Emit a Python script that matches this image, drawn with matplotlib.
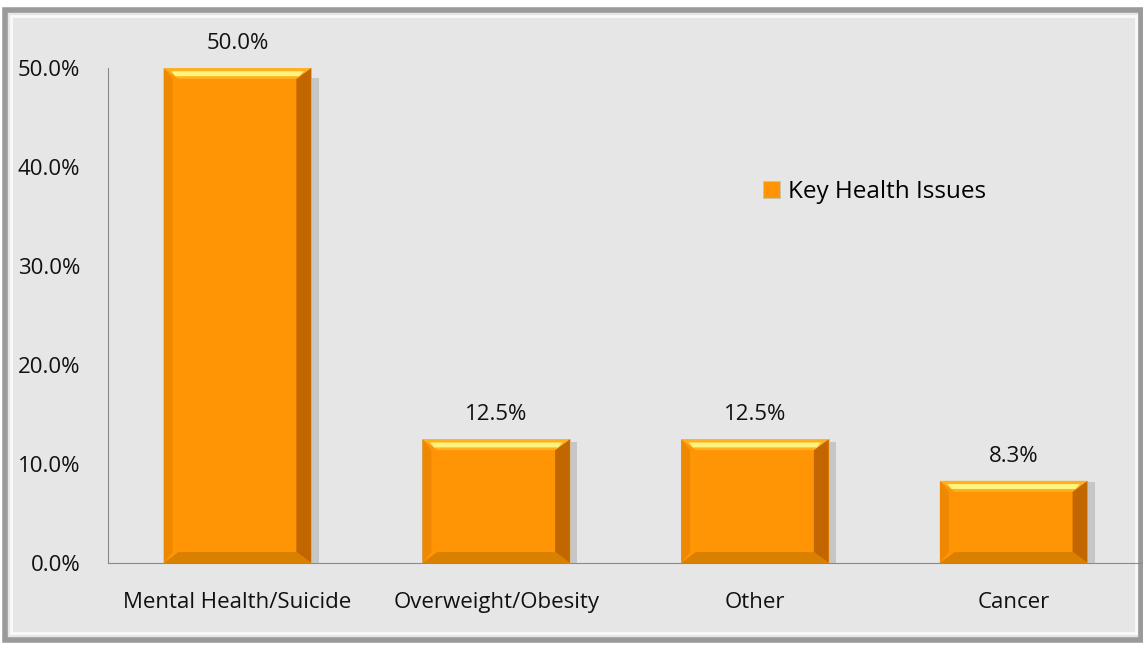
import numpy as np
import matplotlib.pyplot as plt
from matplotlib.patches import Rectangle, Polygon
from matplotlib.ticker import PercentFormatter

categories = ["Mental Health/Suicide", "Overweight/Obesity", "Other", "Cancer"]
values = [50.0, 12.5, 12.5, 8.3]
series_name = "Key Health Issues"

plt.rcParams['font.family'] = ['Open Sans', 'DejaVu Sans']

fig = plt.figure(figsize=(11.43, 6.46), dpi=100)
fig.patch.set_facecolor('white')

# outer frame of the chart area
fig.patches.append(Rectangle((0.004, 0.009), 0.994, 0.976, transform=fig.transFigure,
                             facecolor='#e6e6e6', edgecolor='#9a9a9a', lw=4, zorder=-2))
fig.patches.append(Rectangle((0.010, 0.020), 0.984, 0.955, transform=fig.transFigure,
                             facecolor='none', edgecolor='#fafafa', lw=2, zorder=-1))

ax = fig.add_axes([0.0945, 0.1285, 0.9055, 0.7662])
ax.set_facecolor('none')

x = np.arange(len(categories))
width = 0.57
bars = ax.bar(x, values, width=width, color='#ff9405', edgecolor='#c9c2b0', lw=0.6, zorder=3)

# bevel effect: shadow, dark right edge, bright top band
bx = width * 0.1
by = 50 * 0.022
for xi, v in zip(x, values):
    l, r = xi - width / 2, xi + width / 2
    ax.add_patch(Rectangle((r, 0), width * 0.05, v * 0.98, facecolor='#a8a8a8', alpha=0.5,
                           lw=0, zorder=2))
    ax.add_patch(Polygon([(r, 0), (r, v), (r - bx, v - by), (r - bx, by)],
                         facecolor='#c26600', lw=0, zorder=4))
    ax.add_patch(Polygon([(l, 0), (l, v), (l + bx * 0.6, v - by), (l + bx * 0.6, by)],
                         facecolor='#ee8800', lw=0, zorder=4))
    ax.add_patch(Polygon([(l, v), (r, v), (r - bx, v - by), (l + bx, v - by)],
                         facecolor='#ffb020', lw=0, zorder=4))
    ax.add_patch(Polygon([(l + bx * 0.5, v - by * 0.3), (r - bx * 0.5, v - by * 0.3),
                          (r - bx * 0.8, v - by * 0.75), (l + bx * 0.8, v - by * 0.75)],
                         facecolor='#fff480', lw=0, zorder=5))
    ax.add_patch(Polygon([(l, 0), (r, 0), (r - bx, by), (l + bx, by)],
                         facecolor='#d98000', lw=0, zorder=4))
    ax.text(xi, v + 1.4, f"{v:.1f}%", ha='center', va='bottom', fontsize=16, color='#111111')

ax.set_xlim(-0.5, len(categories) - 0.5)
ax.set_ylim(0, 50)
ax.set_yticks(np.arange(0, 51, 10))
ax.yaxis.set_major_formatter(PercentFormatter(decimals=1))
ax.set_xticks(x)
ax.set_xticklabels(categories)
ax.tick_params(axis='both', length=0, labelsize=16, colors='#111111')
ax.tick_params(axis='y', pad=20)
ax.tick_params(axis='x', pad=21)

for s in ['top', 'right']:
    ax.spines[s].set_visible(False)
ax.spines['left'].set_color('#8a8a8a')
ax.spines['bottom'].set_color('#8a8a8a')

ax.legend([bars[0]], [series_name], loc='center left', bbox_to_anchor=(0.612, 0.75),
          frameon=False, fontsize=17.5, handlelength=0.7, handleheight=0.7, handletextpad=0.3)

fig.savefig('out.png', dpi=100)
